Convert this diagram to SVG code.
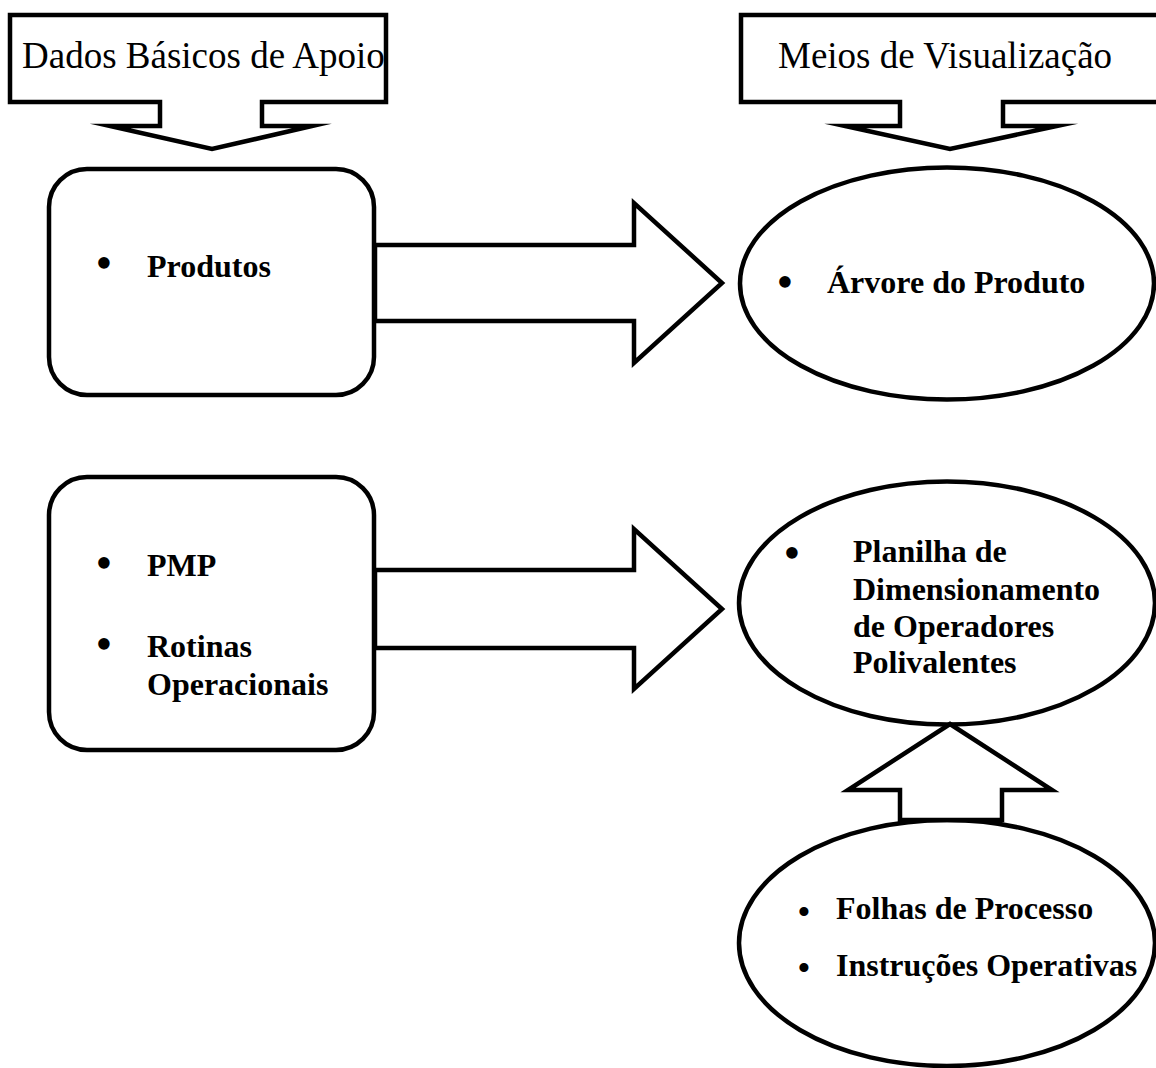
<svg xmlns="http://www.w3.org/2000/svg" width="1156" height="1068" viewBox="0 0 1156 1068">
  <style>
    .shape { fill: #ffffff; stroke: #000000; stroke-width: 4.5; stroke-linejoin: miter; stroke-miterlimit: 10; }
    text { font-family: 'Liberation Serif', serif; fill: #000000; }
    .head { font-size: 37px; }
    .item { font-size: 32px; font-weight: bold; }
    .dot { font-size: 48px; text-anchor: middle; }
    .dot-sm { font-size: 38px; text-anchor: middle; }
  </style>
  <rect x="0" y="0" width="1156" height="1068" fill="#ffffff"/>

  <!-- header callouts -->
  <g id="dados-basicos">
    <polygon class="shape" points="10,15 386,15 386,102 262,102 262,126 312,126 212,149 110,126 160,126 160,102 10,102"/>
    <text class="head" x="22" y="68">Dados Básicos de Apoio</text>
  </g>
  <g id="meios-visualizacao">
    <polygon class="shape" points="741,15 1160,15 1160,102 1003,102 1003,126 1057,126 950,149 845,126 900,126 900,102 741,102"/>
    <text class="head" x="778" y="68">Meios de Visualização</text>
  </g>

  <!-- input boxes -->
  <g id="produtos">
    <rect class="shape" x="49" y="169" width="325" height="226" rx="38" ry="38"/>
    <text class="dot" x="104" y="279">•</text>
    <text class="item" x="147" y="277">Produtos</text>
  </g>
  <g id="pmp-rotinas">
    <rect class="shape" x="49" y="477" width="325" height="273" rx="38" ry="38"/>
    <text class="dot" x="104" y="579">•</text>
    <text class="item" x="147" y="576">PMP</text>
    <text class="dot" x="104" y="660">•</text>
    <text class="item" x="147" y="657">Rotinas</text>
    <text class="item" x="147" y="695">Operacionais</text>
  </g>

  <!-- output ellipses -->
  <g id="arvore-produto">
    <ellipse class="shape" cx="947" cy="283.5" rx="207" ry="116"/>
    <text class="dot" x="785" y="298">•</text>
    <text class="item" x="827" y="293">Árvore do Produto</text>
  </g>
  <g id="planilha">
    <ellipse class="shape" cx="947" cy="603" rx="208" ry="121.5"/>
    <text class="dot" x="792" y="569">•</text>
    <text class="item" x="853" y="562">Planilha de</text>
    <text class="item" x="853" y="600">Dimensionamento</text>
    <text class="item" x="853" y="637">de Operadores</text>
    <text class="item" x="853" y="673">Polivalentes</text>
  </g>
  <g id="folhas-instrucoes">
    <ellipse class="shape" cx="947" cy="943" rx="208" ry="123"/>
    <text class="dot-sm" x="804" y="925">•</text>
    <text class="item" x="836" y="919">Folhas de Processo</text>
    <text class="dot-sm" x="804" y="981">•</text>
    <text class="item" x="836" y="976">Instruções Operativas</text>
  </g>

  <!-- block arrows -->
  <g id="connectors">
    <polygon class="shape" points="375,245 634,245 634,203 722,283 634,363 634,321 375,321"/>
    <polygon class="shape" points="375,570 634,570 634,529 722,609 634,689 634,648 375,648"/>
    <polygon class="shape" points="950,724 1052,790 1002,790 1002,820 900,820 900,790 848,790"/>
  </g>
</svg>
